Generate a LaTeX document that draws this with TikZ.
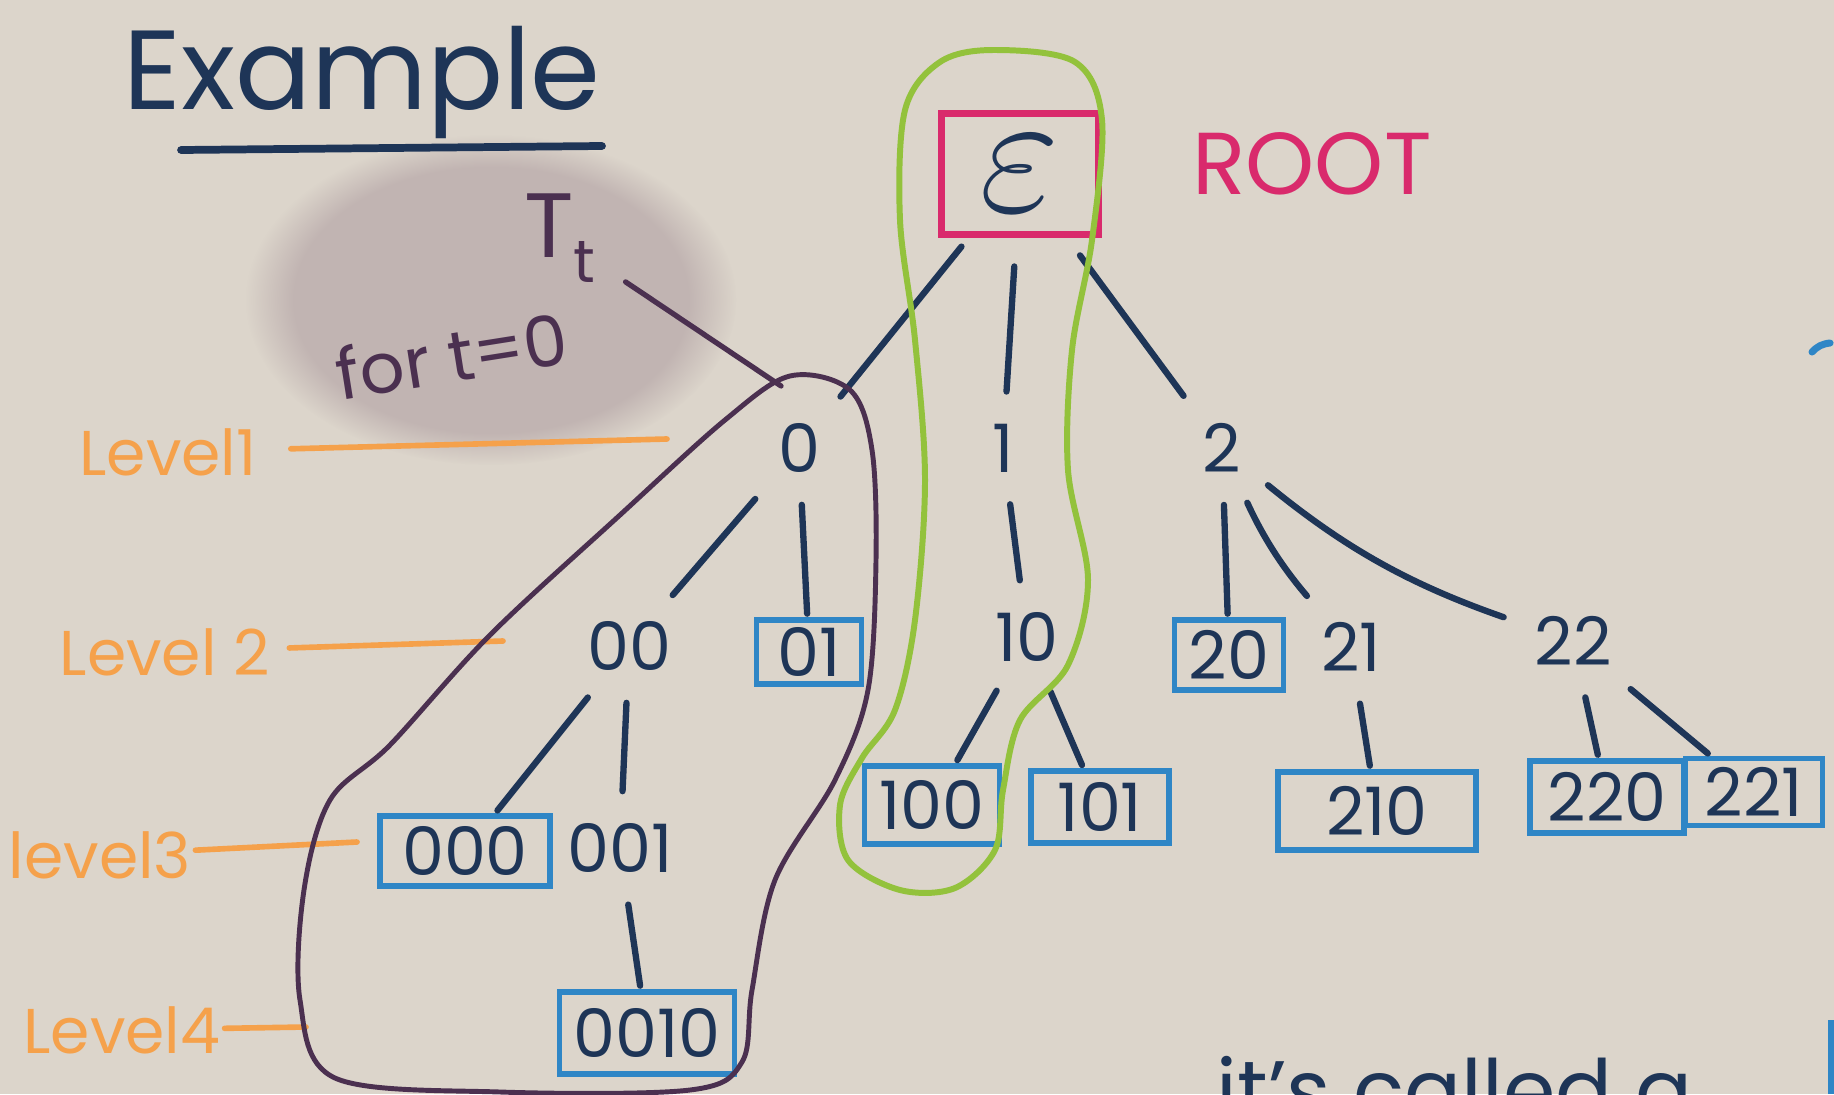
\documentclass[tikz,border=0pt]{standalone}
\usepackage{fontspec}
\usepackage{graphicx}
\setmainfont{Poppins}
\usetikzlibrary{fadings}
\definecolor{paper}{HTML}{DCD5CB}
\definecolor{navy}{HTML}{1E3557}
\definecolor{boxblue}{HTML}{2F86C6}
\definecolor{rootpink}{HTML}{D92A6C}
\definecolor{loopgreen}{HTML}{93C23C}
\definecolor{looppurple}{HTML}{4B3050}
\definecolor{lvlorange}{HTML}{F5A14B}
\definecolor{blobcol}{HTML}{C1B4B2}
\tikzset{
  lbl/.style={text=navy, font=\fontsize{19}{22}\selectfont, inner sep=2pt},
  leaf/.style={lbl, draw=boxblue, line width=1.6pt, inner sep=0pt},
  edge/.style={draw=navy, line width=1.8pt, line cap=round, shorten <=7pt, shorten >=7pt},
  edgeb/.style={draw=navy, line width=1.8pt, line cap=round, shorten <=7pt, shorten >=1pt},
  lvl/.style={text=lvlorange, font=\fontsize{18}{22}\selectfont, inner sep=1pt},
  oline/.style={draw=lvlorange, line width=1.6pt, line cap=round},
}
\begin{document}
\begin{tikzpicture}[x=0.01cm,y=-0.01cm]
\useasboundingbox (0,0) rectangle (1834,1094);
\clip (0,0) rectangle (1834,1094);
\fill[paper] (0,0) rectangle (1834,1094);
% shaded blob
\fill[blobcol, path fading=circle with fuzzy edge 20 percent] (491,300) ellipse [x radius=245, y radius=165];

% title
\node[text=navy, font=\fontsize{32}{38}\selectfont] (ex) at (362,82) {Example};
\draw[navy, line width=2.2pt, line cap=round] (181,150) -- (602,146);

% T_t annotation
\node[text=looppurple, font=\fontsize{26}{30}\selectfont] (Tt) at (560,238) {T\raisebox{-7pt}{\fontsize{17}{20}\selectfont t}};
\node[text=looppurple, font=\fontsize{20}{24}\selectfont, rotate=9] (fort) at (452,356) {for t=0};
\coordinate (Tp) at (781,386);
\draw[looppurple, line width=1.5pt, line cap=round, shorten <=6pt] (Tt) -- (Tp);

% root
\node[draw=rootpink, line width=2.2pt, minimum width=1.57cm, minimum height=1.21cm, text=navy, font=\fontsize{24}{28}\selectfont] (root) at (1020,174) {\scalebox{2}{$\varepsilon$}};
\node[text=rootpink, font=\fontsize{25}{30}\selectfont] (rootlbl) at (1312,164) {ROOT};

% level 1
\node[lbl] (n0) at (799,448) {0};
\node[lbl] (n1) at (1003,448) {1};
\node[lbl] (n2) at (1222,448) {2};
% level 2
\node[lbl] (n00) at (629,646) {00};
\node[leaf, minimum width=1.05cm, minimum height=0.64cm] (n01) at (809,652) {01};
\node[lbl] (n10) at (1027,637) {10};
\node[leaf, minimum width=1.09cm, minimum height=0.70cm] (n20) at (1229,655) {20};
\node[lbl] (n21) at (1351,647) {21};
\node[lbl] (n22) at (1573,641) {22};
% level 3
\node[leaf, minimum width=1.70cm, minimum height=0.70cm] (n000) at (465,851) {000};
\node[lbl] (n001) at (620,848) {001};
\node[leaf, minimum width=1.35cm, minimum height=0.78cm] (n100) at (932,805) {100};
\node[leaf, minimum width=1.38cm, minimum height=0.72cm] (n101) at (1100,807) {101};
\node[leaf, minimum width=1.98cm, minimum height=0.78cm] (n210) at (1377,811) {210};
\node[leaf, minimum width=1.54cm, minimum height=0.72cm] (n220) at (1607,797) {220};
\node[leaf, minimum width=1.37cm, minimum height=0.67cm] (n221) at (1754,792) {221};
% level 4
\node[leaf, minimum width=1.75cm, minimum height=0.82cm] (n0010) at (647,1033) {0010};

% edges
\draw[edge, shorten <=3pt] (root) -- (n0);
\draw[edge, shorten <=8pt] (root) -- (n1);
\draw[edge, shorten <=6pt] (root) -- (n2);
\draw[edge] (n0) -- (n00);
\draw[edgeb] (n0) -- (n01);
\draw[edge] (n1) -- (n10);
\draw[edgeb] (n2) -- (n20);
\draw[edge] (n2) to[bend right=8] (n21);
\draw[edge] (n2) to[bend right=10] (n22);
\draw[edgeb] (n00) -- (n000);
\draw[edge] (n00) -- (n001);
\draw[edgeb] (n10) -- (n100);
\draw[edgeb] (n10) -- (n101);
\draw[edgeb] (n21) -- (n210);
\draw[edgeb] (n22) -- (n220);
\draw[edgeb] (n22) -- (n221);
\draw[edgeb] (n001) -- (n0010);

% level labels
\node[lvl] (L1) at (168,452) {Level1};
\node[lvl] (L2) at (165,652) {Level 2};
\node[lvl] (L3) at (100,855) {level3};
\node[lvl] (L4) at (122,1030) {Level4};
\coordinate (L1e) at (667,439);
\coordinate (L2e) at (503,641);
\coordinate (L3e) at (357,842);
\coordinate (L4e) at (306,1027);
\draw[oline, shorten <=0.3cm] (L1) -- (L1e);
\draw[oline, shorten <=0.15cm] (L2) -- (L2e);
\draw[oline] (L3) -- (L3e);
\draw[oline] (L4) -- (L4e);

% subtree outline (purple)
\draw[looppurple, line width=1.4pt] plot[smooth cycle, tension=0.55] coordinates {
 (790,376) (850,390) (872,450) (876,560) (868,690) (835,780) (775,880)
 (752,990) (742,1062) (690,1090) (500,1092) (335,1078) (300,1000)
 (304,890) (330,800) (390,745) (490,635) (620,515) (725,420)};

% path outline (green)
\draw[loopgreen, line width=1.7pt] plot[smooth cycle, tension=0.55] coordinates {
 (994,50) (1075,62) (1102,120) (1092,240) (1072,350) (1068,470) (1088,580)
 (1068,665) (1020,720) (1003,790) (995,850) (955,888) (900,890) (848,860)
 (840,805) (862,758) (895,710) (915,620) (925,480) (915,340) (900,220)
 (905,110) (940,62)};

% cut-off fragments at the edges
\node[text=navy, font=\fontsize{24}{30}\selectfont, anchor=north west, inner sep=0pt] (btxt) at (1216,1056) {it's called a};
\draw[boxblue, line width=2pt, line cap=round] (1812,352) to[bend left=20] (1830,343);
\draw[boxblue, line width=2pt] (1831,1020) -- (1831,1094);
\end{tikzpicture}
\end{document}
